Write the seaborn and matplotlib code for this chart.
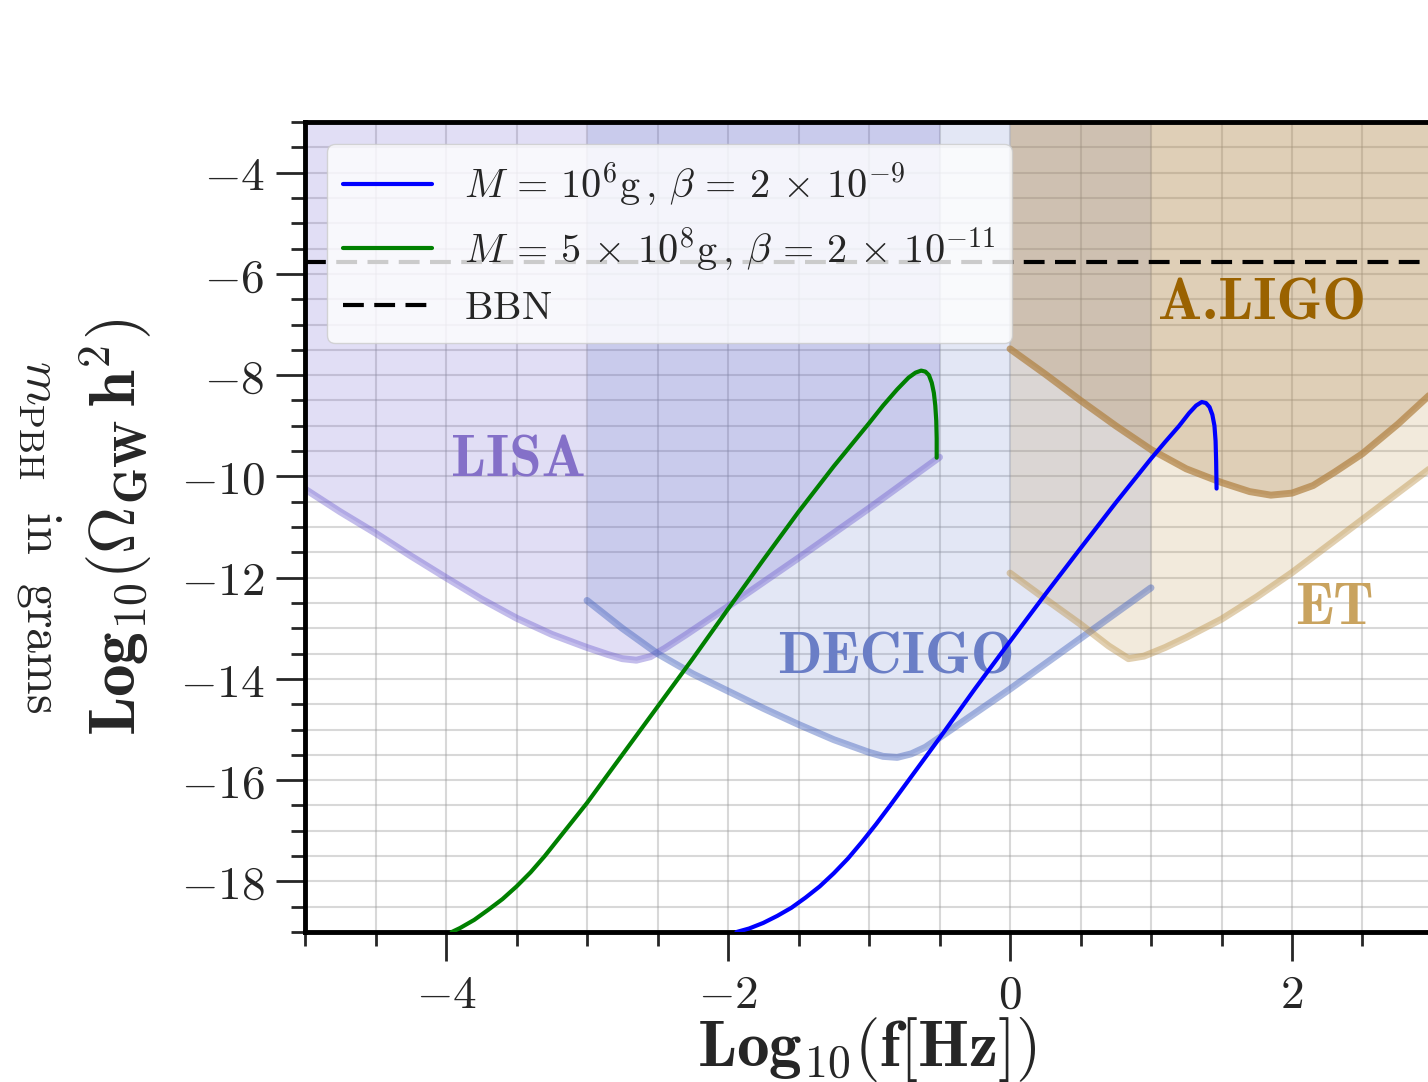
import matplotlib
matplotlib.use("Agg")
import matplotlib.pyplot as plt
from matplotlib.ticker import MultipleLocator
import numpy as np
import pandas as pd
import seaborn as sns

# ---------------- data ----------------
LISA_x = [-5.0, -4.75, -4.5, -4.25, -4.0, -3.75, -3.5, -3.25, -3.0, -2.85, -2.75, -2.65, -2.55,
          -2.45, -2.3, -2.0, -1.5, -1.0, -0.5]
LISA_y = [-10.25, -10.7, -11.12, -11.57, -12.0, -12.42, -12.8, -13.12, -13.38, -13.52, -13.6, -13.63, -13.56,
          -13.4, -13.13, -12.57, -11.61, -10.63, -9.62]

DECIGO_x = [-3.0, -2.75, -2.5, -2.25, -2.0, -1.75, -1.5, -1.25, -1.0, -0.9, -0.8, -0.7, -0.6,
            -0.5, -0.25, 0.0, 0.5, 1.0]
DECIGO_y = [-12.45, -13.0, -13.5, -13.9, -14.24, -14.58, -14.9, -15.2, -15.45, -15.53, -15.55, -15.48, -15.35,
            -15.16, -14.68, -14.2, -13.2, -12.2]

ALIGO_x = [0.0, 0.25, 0.5, 0.75, 1.0, 1.25, 1.5, 1.7, 1.85, 2.0, 2.15, 2.3, 2.5, 2.75, 3.0]
ALIGO_y = [-7.48, -7.98, -8.5, -9.0, -9.47, -9.85, -10.12, -10.3, -10.37, -10.33, -10.18, -9.92, -9.55, -8.97, -8.33]

ET_x = [0.0, 0.25, 0.5, 0.7, 0.84, 0.95, 1.1, 1.25, 1.5, 1.75, 2.0, 2.5, 3.0]
ET_y = [-11.91, -12.42, -12.92, -13.35, -13.6, -13.55, -13.38, -13.18, -12.82, -12.38, -11.9, -10.85, -9.8]

green_x = [-3.96, -3.9, -3.8, -3.7, -3.6, -3.5, -3.4, -3.3, -3.2, -3.1, -3.0, -2.9, -2.75, -2.5,
           -2.25, -2.0, -1.75, -1.5, -1.25, -1.0, -0.9, -0.8, -0.72, -0.67, -0.63, -0.6,
           -0.575, -0.555, -0.54, -0.53, -0.523, -0.52, -0.52]
green_y = [-19.0, -18.92, -18.76, -18.56, -18.35, -18.1, -17.82, -17.5, -17.15, -16.8, -16.45, -16.07, -15.5, -14.55,
           -13.6, -12.62, -11.65, -10.7, -9.8, -8.95, -8.6, -8.28, -8.05, -7.95, -7.91, -7.93,
           -8.0, -8.15, -8.35, -8.6, -8.9, -9.25, -9.63]

blue_x = [-1.94, -1.85, -1.75, -1.65, -1.55, -1.45, -1.35, -1.25, -1.15, -1.05, -0.95, -0.85, -0.75,
          -0.6, -0.5, -0.25, 0.0, 0.25, 0.5, 0.75, 1.0, 1.1, 1.2, 1.27, 1.32, 1.36, 1.39, 1.415,
          1.435, 1.45, 1.458, 1.462, 1.465]
blue_y = [-19.0, -18.93, -18.82, -18.68, -18.52, -18.32, -18.1, -17.84, -17.55, -17.22, -16.87, -16.5, -16.12,
          -15.55, -15.17, -14.2, -13.26, -12.33, -11.42, -10.52, -9.65, -9.32, -9.0, -8.75, -8.6, -8.53, -8.55, -8.63,
          -8.78, -9.0, -9.3, -9.7, -10.24]

BBN_level = -5.77

series_labels = [r"$M\,=\,10^{6}{\rm g}\,,\,\beta\,=\,2\,\times\,10^{-9}$",
                 r"$M\,=\,5\,\times\,10^{8}{\rm g}\,,\,\beta\,=\,2\,\times\,10^{-11}$",
                 r"${\rm BBN}$"]

detector_names = ["LISA", "DECIGO", "A.LIGO", "ET"]

xticks = [-4, -2, 0, 2]
xtick_labels = [r"$-4$", r"$-2$", r"$0$", r"$2$"]
yticks = [-18, -16, -14, -12, -10, -8, -6, -4]
ytick_labels = [r"$-18$", r"$-16$", r"$-14$", r"$-12$", r"$-10$", r"$-8$", r"$-6$", r"$-4$"]

XLIM = (-5, 3)
YLIM = (-19, -3)

# ---------------- style ----------------
sns.set_style("ticks")
plt.rcParams["mathtext.fontset"] = "cm"
plt.rcParams["font.family"] = ["serif"]
plt.rcParams["font.serif"] = ["DejaVu Serif"]

fig = plt.figure(figsize=(14.28, 10.82), dpi=100)
ax = fig.add_axes([0.2136, 0.1386, 0.7899, 0.7486])

C_LISA = "#6A5ACD"
C_DEC = "#4664BE"
C_ALIGO = "#A8804A"
C_ET = "#BE9650"

# detector fills (above sensitivity curves)
ax.fill_between(LISA_x, LISA_y, YLIM[1], color=C_LISA, alpha=0.2, lw=0, zorder=1)
ax.fill_between(DECIGO_x, DECIGO_y, YLIM[1], color=C_DEC, alpha=0.15, lw=0, zorder=1)
ax.fill_between(ET_x, ET_y, YLIM[1], color=C_ET, alpha=0.2, lw=0, zorder=1)
ax.fill_between(ALIGO_x, ALIGO_y, YLIM[1], color=C_ALIGO, alpha=0.25, lw=0, zorder=1)

# detector curves
sns.lineplot(x=LISA_x, y=LISA_y, ax=ax, color=C_LISA, alpha=0.4, lw=5, sort=False, estimator=None)
sns.lineplot(x=DECIGO_x, y=DECIGO_y, ax=ax, color=C_DEC, alpha=0.45, lw=5, sort=False, estimator=None)
sns.lineplot(x=ET_x, y=ET_y, ax=ax, color=C_ET, alpha=0.45, lw=5, sort=False, estimator=None)
sns.lineplot(x=ALIGO_x, y=ALIGO_y, ax=ax, color="#B08040", alpha=0.7, lw=5, sort=False, estimator=None)

# signal curves
sns.lineplot(x=blue_x, y=blue_y, ax=ax, color="blue", lw=3, sort=False, estimator=None,
             label=series_labels[0], zorder=5)
sns.lineplot(x=green_x, y=green_y, ax=ax, color="green", lw=3, sort=False, estimator=None,
             label=series_labels[1], zorder=5)
ax.axhline(BBN_level, color="black", lw=3, dashes=(5, 2.5), label=series_labels[2], zorder=4)

# detector names
name_font = dict(fontfamily="cmb10", fontsize=42)
ax.text(-3.49, -10.0, detector_names[0], color="#8470C8", ha="center", va="baseline", **name_font)
ax.text(-0.81, -13.6, detector_names[1], color="#6A7EC6", ha="center", va="center", **name_font)
ax.text(1.79, -6.62, detector_names[2], color="#9A6200", ha="center", va="center", **name_font)
ax.text(2.3, -12.62, detector_names[3], color="#C9A35F", ha="center", va="center", **name_font)

ax.set_xlim(*XLIM)
ax.set_ylim(*YLIM)
ax.set_xticks(xticks)
ax.set_xticklabels(xtick_labels)
ax.set_yticks(yticks)
ax.set_yticklabels(ytick_labels)
ax.xaxis.set_minor_locator(MultipleLocator(0.5))
ax.yaxis.set_minor_locator(MultipleLocator(0.5))
ax.grid(which="both", color="#999999", alpha=0.38, lw=1.5)
ax.tick_params(which="major", length=21, width=2, labelsize=34, direction="out", pad=8)
ax.tick_params(which="minor", length=10, width=2, direction="out")
for s in ax.spines.values():
    s.set_linewidth(3.5)
    s.set_color("black")

ax.set_xlabel(r"$\mathbf{Log}_{\mathbf{10}}\mathbf{(f[Hz])}$", fontsize=47)
ax.xaxis.set_label_coords(0.498, -0.103)
ax.set_ylabel(r"$\mathbf{Log}_{\mathbf{10}}\mathbf{(\Omega_{GW}\,h^{2})}$", fontsize=47)
ax.yaxis.set_label_coords(-0.133, 0.5)

fig.text(0.028, 0.504, r"$m_{\rm PBH}\ \ {\rm in\ \ grams}$", fontsize=36, rotation=270,
         ha="center", va="center")

leg = ax.legend(loc="upper left", fontsize=29, framealpha=0.8, edgecolor="#cccccc",
                handlelength=2.2, borderaxespad=0.55, labelspacing=0.42, borderpad=0.4,
                fancybox=True)
for h in leg.get_lines():
    h.set_linewidth(3)
leg.set_zorder(10)

fig.savefig("out.png", dpi=100)
